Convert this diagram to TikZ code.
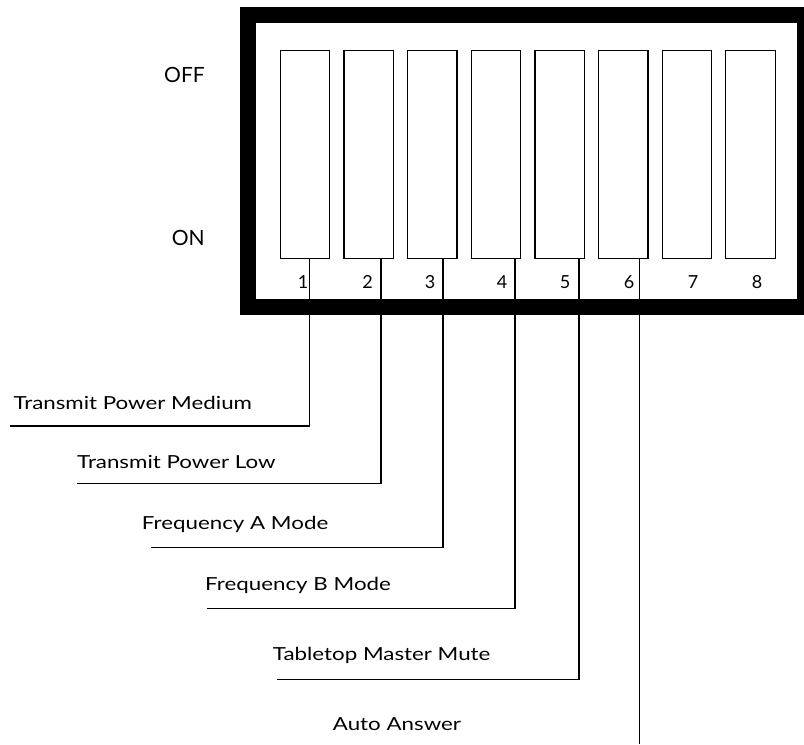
\documentclass[tikz,border=0pt]{standalone}
\usepackage{fontspec}
\setmainfont{Lato}
\tikzset{
  switchbox/.style={draw,line width=1.3pt,minimum width=49.5pt,minimum height=208pt,inner sep=0pt,outer sep=0pt},
  pinlabel/.style={anchor=base,inner sep=0pt,font=\fontsize{18}{20}\selectfont},
  funclabel/.style={anchor=base west,inner sep=0pt,xscale=1.24,transform shape,font=\fontsize{18}{20}\selectfont},
  statelabel/.style={anchor=base west,inner sep=0pt,font=\fontsize{21}{24}\selectfont},
  leader/.style={line width=1.2pt},
}
\begin{document}
\begin{tikzpicture}[x=1pt,y=-1pt]
  \useasboundingbox (0,0) rectangle (804,745);
  \clip (0,0) rectangle (804,745);
  \draw[line width=16pt] (248,15.3) rectangle (805,306.7);
  \foreach \i in {1,...,8}
    \node[switchbox] (sw\i) at ({305+(\i-1)*63.65},154.2) {};
  \foreach \i/\x in {1/303,2/367.5,3/430,4/502,5/565,6/629,7/693,8/757}
    \node[pinlabel] (pin\i) at (\x,288) {\i};
  \node[statelabel] (off) at (164,82.7) {OFF};
  \node[statelabel] (on) at (171.7,245) {ON};

  \node[funclabel] (txmed) at (13.3,409) {Transmit Power Medium};
  \node[funclabel] (txlow) at (77,468) {Transmit Power Low};
  \node[funclabel] (freqa) at (141.7,529) {Frequency A Mode};
  \node[funclabel] (freqb) at (205,590) {Frequency B Mode};
  \node[funclabel] (mute) at (272.7,660) {Tabletop Master Mute};
  \node[funclabel] (answer) at (332.7,730) {Auto Answer};

  \foreach \i/\x/\y/\l in {1/309.3/426/10,2/381/483.3/77.3,3/443/547.3/150.7,4/515/608.5/207,5/579/679.3/276.7}{
    \coordinate (top\i) at (\x,0);
    \coordinate (end\i) at (\l,\y);
    \draw[leader] (sw\i.south -| top\i) |- (end\i);
  }
  \coordinate (top6) at (639.5,0);
  \coordinate (end6) at (639.5,744);
  \draw[leader] (sw6.south -| top6) -- (end6);
\end{tikzpicture}
\end{document}
